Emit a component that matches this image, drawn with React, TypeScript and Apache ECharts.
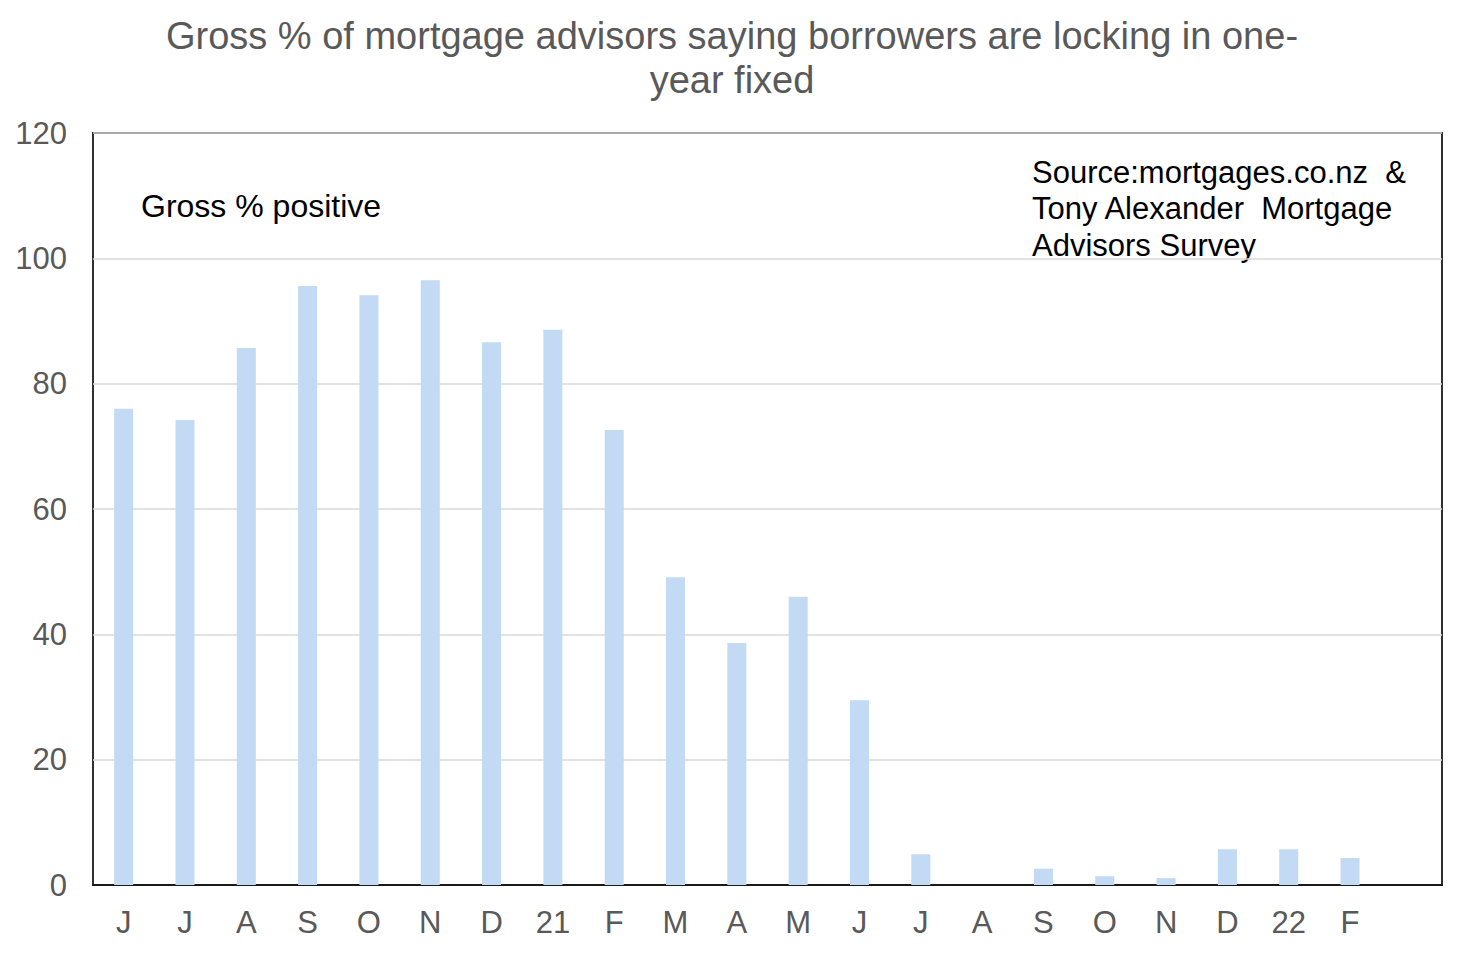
import React, { useEffect, useRef } from "react";
import * as echarts from "echarts";

const categories = ["J", "J", "A", "S", "O", "N", "D", "21", "F", "M", "A", "M", "J", "J", "A", "S", "O", "N", "D", "22", "F", ""];
const values = [76.0, 74.2, 85.7, 95.6, 94.1, 96.5, 86.6, 88.6, 72.6, 49.1, 38.6, 46.0, 29.5, 4.9, 0, 2.6, 1.4, 1.1, 5.7, 5.7, 4.3, null];
const titleLines = ["Gross % of mortgage advisors saying borrowers are locking in one-", "year fixed"];
const sourceLines = ["Source:mortgages.co.nz  &", "Tony Alexander  Mortgage", "Advisors Survey"];
const seriesLabel = "Gross % positive";

const FONT = "'Liberation Sans', Arial, sans-serif";

export default function App() {
  const ref = useRef<HTMLDivElement>(null);
  useEffect(() => {
    const chart = echarts.init(ref.current!, null, { renderer: "svg" });
    chart.setOption({
      animation: false,
      backgroundColor: "#ffffff",
      textStyle: { fontFamily: FONT },
      grid: {
        left: 93,
        right: 22,
        top: 133,
        bottom: 69,
        show: true,
        borderColor: "#1a1a1a",
        borderWidth: 1.8,
        containLabel: false,
      },
      xAxis: {
        type: "category",
        data: categories,
        axisLine: { show: true, lineStyle: { color: "#1a1a1a", width: 1.8 } },
        axisTick: { show: false },
        axisLabel: { color: "#595959", fontSize: 31, margin: 22, fontFamily: FONT, interval: 0 },
      },
      yAxis: {
        type: "value",
        min: 0,
        max: 120,
        interval: 20,
        axisLine: { show: false },
        axisTick: { show: false },
        axisLabel: { color: "#595959", fontSize: 31, margin: 26, fontFamily: FONT },
        splitLine: { show: true, lineStyle: { color: "#d9d9d9", width: 1.5 } },
      },
      series: [
        {
          type: "bar",
          data: values,
          barWidth: 19,
          itemStyle: { color: "#c2daf3" },
        },
      ],
      graphic: [
        {
          type: "text",
          left: "center",
          top: 17,
          style: { text: titleLines[0], font: `38px ${FONT}`, fill: "#595959" },
        },
        {
          type: "text",
          left: "center",
          top: 61,
          style: { text: titleLines[1], font: `38px ${FONT}`, fill: "#595959" },
        },
        {
          type: "text",
          left: 141,
          top: 190,
          style: { text: seriesLabel, font: `32px ${FONT}`, fill: "#000000" },
        },
        {
          type: "text",
          left: 1032,
          top: 154,
          style: {
            text: sourceLines.join("\n"),
            font: `31px ${FONT}`,
            fill: "#000000",
            lineHeight: 36.5,
          },
        },
      ],
    });
    return () => chart.dispose();
  }, []);
  return <div ref={ref} style={{ position: "fixed", left: 0, top: 0, width: 1464, height: 954 }} />;
}
